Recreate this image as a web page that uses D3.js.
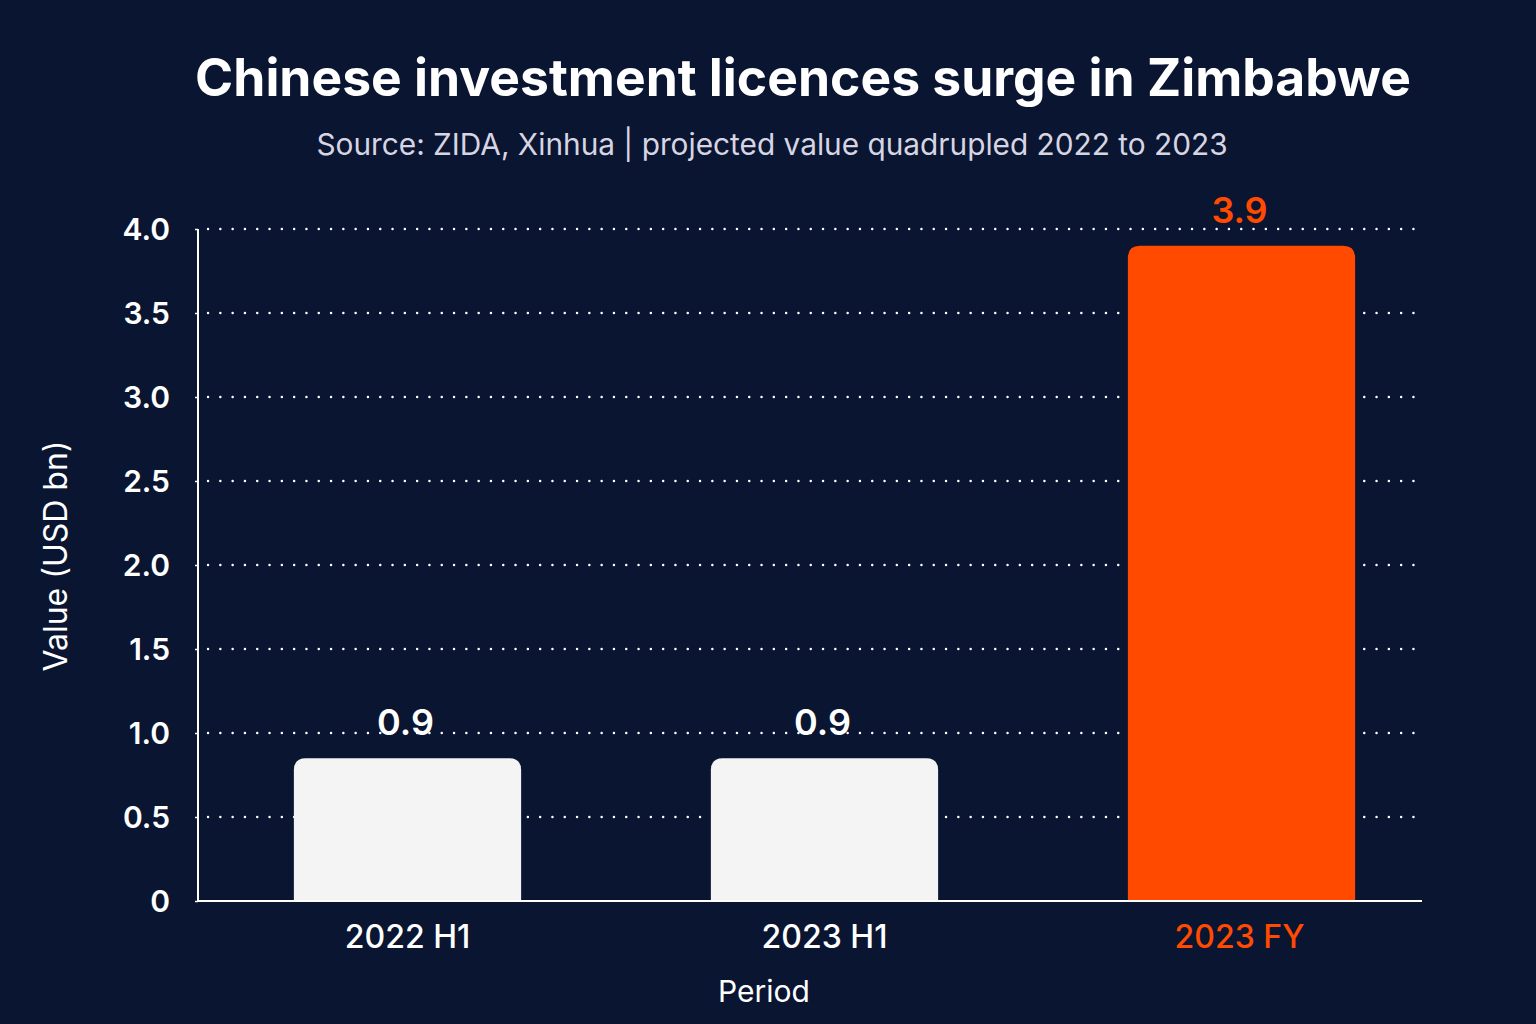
<!DOCTYPE html>
<html>
<head>
<meta charset="utf-8">
<style>
  html, body { margin: 0; padding: 0; background: #091531; }
  svg { display: block; font-family: "Inter", "Roboto", sans-serif; }
</style>
<script src="https://d3js.org/d3.v7.min.js"></script>
</head>
<body>
<div id="chart"></div>
<script>
// data
var periods = ["2022 H1", "2023 H1", "2023 FY"];
var values = [0.85, 0.85, 3.9];
var valueLabels = ["0.9", "0.9", "3.9"];
var yTicks = [0, 0.5, 1.0, 1.5, 2.0, 2.5, 3.0, 3.5, 4.0];

var W = 1536, H = 1024;
var bg = "#091531", white = "#f4f4f4", orange = "#ff4a00";

var svg = d3.select("#chart").append("svg")
  .attr("width", W).attr("height", H);

svg.append("rect").attr("width", W).attr("height", H).attr("fill", bg);

// scales
var x = d3.scaleBand()
  .domain(periods)
  .range([199, 1450])
  .paddingInner(0.455)
  .paddingOuter(0.2275);

var y = d3.scaleLinear()
  .domain([0, 4])
  .range([901, 229]);

var left = 198, right = 1422;

// titles
svg.append("text")
  .attr("x", 803).attr("y", 96)
  .attr("text-anchor", "middle")
  .attr("fill", "#ffffff")
  .style("font-size", "51.6px").style("font-weight", 700)
  .text("Chinese investment licences surge in Zimbabwe");

svg.append("text")
  .attr("x", 772).attr("y", 155)
  .attr("text-anchor", "middle")
  .attr("fill", "#d8d5e2")
  .style("font-size", "29.8px")
  .text("Source: ZIDA, Xinhua | projected value quadrupled 2022 to 2023");

// gridlines
svg.append("g").selectAll("line")
  .data(yTicks.filter(function(d) { return d > 0; }))
  .join("line")
    .attr("x1", left + 10).attr("x2", right - 2)
    .attr("y1", function(d) { return y(d); })
    .attr("y2", function(d) { return y(d); })
    .attr("stroke", "#ffffff")
    .attr("stroke-width", 2.4)
    .attr("stroke-linecap", "round")
    .attr("stroke-dasharray", "0.1,12.2");

// bars with rounded tops
var r = 12;
function barPath(d, i) {
  var x0 = x(periods[i]), x1 = x0 + x.bandwidth();
  var y0 = y(0), y1 = y(d);
  return "M" + x0 + "," + y0 +
    "V" + (y1 + r) +
    "Q" + x0 + "," + y1 + " " + (x0 + r) + "," + y1 +
    "H" + (x1 - r) +
    "Q" + x1 + "," + y1 + " " + x1 + "," + (y1 + r) +
    "V" + y0 + "Z";
}

svg.append("g").selectAll("path")
  .data(values)
  .join("path")
    .attr("d", barPath)
    .attr("fill", function(d, i) { return i === 2 ? orange : white; });

// value labels
svg.append("g").selectAll("text")
  .data(values)
  .join("text")
    .attr("x", function(d, i) { return x(periods[i]) + x.bandwidth() / 2 - 2; })
    .attr("y", function(d) { return y(d) - 23; })
    .attr("text-anchor", "middle")
    .attr("fill", function(d, i) { return i === 2 ? orange : "#ffffff"; })
    .style("font-size", "36px").style("font-weight", 600)
    .text(function(d, i) { return valueLabels[i]; });

// y axis
var yAxis = svg.append("g")
  .attr("transform", "translate(" + left + ",0)")
  .call(d3.axisLeft(y)
    .tickValues(yTicks)
    .tickSize(3)
    .tickPadding(25)
    .tickFormat(function(d) { return d === 0 ? "0" : d3.format(".1f")(d); }));
yAxis.select(".domain").attr("stroke", "#ffffff").attr("stroke-width", 2)
  .attr("d", "M0," + y(4) + "V" + y(0));
yAxis.selectAll(".tick line").attr("stroke", "#ffffff").attr("stroke-width", 1.5);
yAxis.selectAll(".tick text")
  .attr("fill", "#ffffff")
  .attr("dy", "0.36em")
  .style("font-size", "30px").style("font-weight", 600)
  .style("font-family", "Inter, Roboto, sans-serif");

// x axis
var xAxis = svg.append("g")
  .attr("transform", "translate(0," + y(0) + ")")
  .call(d3.axisBottom(x).tickSize(0).tickPadding(24));
xAxis.select(".domain").attr("stroke", "#ffffff").attr("stroke-width", 2)
  .attr("d", "M" + left + ",0H" + right);
xAxis.selectAll(".tick text")
  .attr("fill", function(d, i) { return i === 2 ? orange : "#ffffff"; })
  .attr("dx", function(d, i) { return i === 2 ? -2 : 0; })
  .style("font-size", "32px").style("font-weight", 500)
  .style("font-family", "Inter, Roboto, sans-serif");

// axis titles
svg.append("text")
  .attr("x", 764).attr("y", 1002)
  .attr("text-anchor", "middle")
  .attr("fill", "#ffffff")
  .style("font-size", "30px")
  .text("Period");

svg.append("text")
  .attr("transform", "translate(67,556) rotate(-90)")
  .attr("text-anchor", "middle")
  .attr("fill", "#ffffff")
  .style("font-size", "32px")
  .text("Value (USD bn)");
</script>
</body>
</html>
